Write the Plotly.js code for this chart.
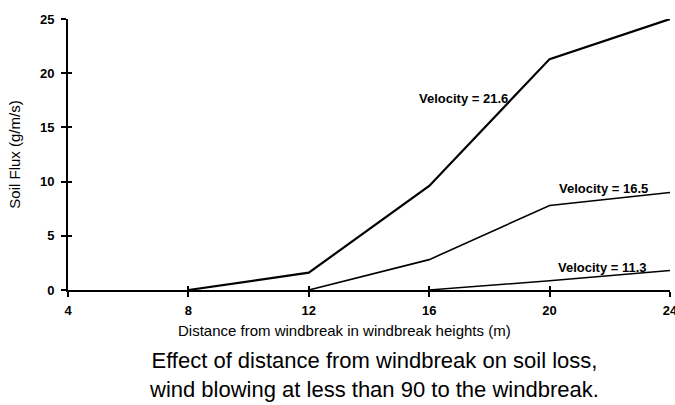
<!DOCTYPE html>
<html><head><meta charset="utf-8">
<script src="https://cdn.plot.ly/plotly-3.0.1.min.js"></script>
<style>html,body{margin:0;padding:0;background:#fff}#chart{width:675px;height:405px}</style>
</head><body><div id="chart"></div>
<script>
const distances = [8, 12, 16, 20, 24];
const v216 = [0, 1.6, 9.6, 21.3, 25];
const v165 = [null, 0, 2.8, 7.8, 9.0];
const v113 = [null, null, 0, 0.85, 1.8];
const seriesNames = ["Velocity = 21.6", "Velocity = 16.5", "Velocity = 11.3"];
const labelPos = [[15.6, 17.7], [20.25, 9.4], [20.2, 2.1]];
const xTicks = [4, 8, 12, 16, 20, 24];
const yTicks = [0, 5, 10, 15, 20, 25];

const mk = (y, w, name) => ({x: distances, y: y, name: name, mode: 'lines',
  line: {color: '#000', width: w}, connectgaps: false, hoverinfo: 'skip'});
const data = [mk(v216, 2.2, seriesNames[0]), mk(v165, 1.6, seriesNames[1]), mk(v113, 1.4, seriesNames[2]),
  {x: [4], y: [0], xaxis: 'x2', yaxis: 'y2', mode: 'markers', marker: {opacity: 0}, hoverinfo: 'skip'}];

const font = {family: 'Liberation Sans, Arial, sans-serif', color: '#000'};
const annotations = seriesNames.map((t, i) => ({x: labelPos[i][0], y: labelPos[i][1], xref: 'x', yref: 'y',
  text: '<b>' + t + '</b>', showarrow: false, xanchor: 'left', yanchor: 'middle',
  font: Object.assign({}, font, {size: 13})}));
annotations.push({xref: 'paper', yref: 'paper', x: 0.46, y: -0.148, xanchor: 'center', yanchor: 'middle',
  showarrow: false, text: 'Distance from windbreak in windbreak heights (m)',
  font: Object.assign({}, font, {size: 15})});
annotations.push({xref: 'paper', yref: 'paper', x: 0.509, y: -0.205, xanchor: 'center', yanchor: 'top',
  showarrow: false, align: 'center',
  text: 'Effect of distance from windbreak on soil loss,<br>wind blowing at less than 90 to the windbreak.',
  font: Object.assign({}, font, {size: 22})});

const axBase = {showgrid: false, zeroline: false, showline: true, linecolor: '#000', linewidth: 2,
  ticklen: 5, tickwidth: 2, tickcolor: '#000'};
const layout = {
  width: 675, height: 405,
  margin: {l: 68, r: 5, t: 19, b: 115},
  paper_bgcolor: '#fff', plot_bgcolor: '#fff',
  showlegend: false,
  font: font,
  xaxis: Object.assign({}, axBase, {range: [4, 24], tickvals: xTicks, ticktext: xTicks.map(v => '<b>' + v + '</b>'),
    ticks: 'outside', ticklabeloverflow: 'allow', ticklabelstandoff: 2,
    tickfont: Object.assign({}, font, {size: 13})}),
  yaxis: Object.assign({}, axBase, {range: [0, 25], tickvals: yTicks, ticktext: yTicks.map(v => '<b>' + v + '</b>'),
    ticks: 'outside', ticklabelstandoff: 4,
    tickfont: Object.assign({}, font, {size: 13}),
    title: {text: 'Soil Flux (g/m/s)', font: Object.assign({}, font, {size: 15}), standoff: 16}}),
  xaxis2: Object.assign({}, axBase, {range: [4, 24], tickvals: xTicks, showticklabels: false, ticks: 'inside',
    ticklen: 4, overlaying: 'x', anchor: 'y2'}),
  yaxis2: Object.assign({}, axBase, {range: [0, 25], tickvals: yTicks, showticklabels: false, ticks: 'inside',
    ticklen: 4, overlaying: 'y', anchor: 'x2'}),
  annotations: annotations
};
Plotly.newPlot('chart', data, layout, {displayModeBar: false, staticPlot: true});
</script></body></html>
